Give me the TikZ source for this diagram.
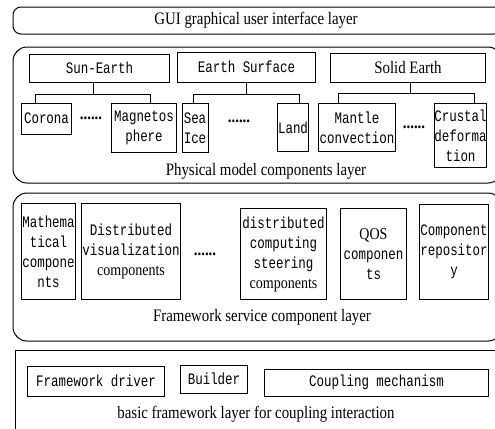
\documentclass[tikz,border=0pt]{standalone}
\usepackage{fontspec}
\setmainfont{Liberation Serif}
\newfontfamily\boxfont{Liberation Mono}[FakeStretch=0.78]
\newfontfamily\labfont{Liberation Serif}[FakeStretch=0.85]
\newcommand{\boxtext}{\boxfont\fontsize{16bp}{20bp}\selectfont}
\newcommand{\labtext}{\labfont\fontsize{17.5bp}{20bp}\selectfont}
\newcommand{\serbox}{\labfont\fontsize{16.5bp}{20bp}\selectfont}
\tikzset{
	comp/.style={draw,line width=0.9bp,inner sep=0pt,outer sep=0pt,align=center,font=\boxtext},
	layer/.style={draw,line width=1bp},
	dots/.style={font=\labtext\bfseries,inner sep=0pt}
}
\begin{document}
\begin{tikzpicture}[x=1bp,y=-1bp]
	\useasboundingbox (0,0) rectangle (495,428);
	% layer frames
	\draw[layer,rounded corners=8bp] (13,7) rectangle (502,34);
	\draw[layer,rounded corners=14bp] (13,47) rectangle (502,183);
	\draw[layer,rounded corners=14bp] (13,193) rectangle (502,341);
	\draw[layer] (15,350) rectangle (502,440);
	\node[font=\labtext] (gui) at (256,20) {GUI graphical user interface layer};
	\node[font=\labtext] (phys) at (266,171) {Physical model components layer};
	\node[font=\labtext] (serv) at (262,317) {Framework service component layer};
	\node[font=\labtext] (base) at (256,414) {basic framework layer for coupling interaction};

	% physical model components
	\node[comp,minimum width=141,minimum height=28] (sunearth) at (99.5,68) {Sun-Earth};
	\node[comp,minimum width=139,minimum height=30] (surface) at (246.5,67) {Earth Surface};
	\node[comp,minimum width=156,minimum height=29,font=\labtext] (solid) at (408,67.5) {Solid Earth};
	\node[comp,minimum width=51,minimum height=31] (corona) at (46.5,118.5) {Corona};
	\node[comp,minimum width=66,minimum height=50] (magneto) at (144,128) {Magnetos\\phere};
	\node[comp,minimum width=26,minimum height=50] (seaice) at (195,128) {Sea\\Ice};
	\node[comp,minimum width=32,minimum height=49] (land) at (293,127.5) {Land};
	\node[comp,minimum width=78,minimum height=49] (mantle) at (357,127.5) {Mantle\\convection};
	\node[comp,minimum width=53,minimum height=65] (crustal) at (460.5,135.5) {Crustal\\deforma\\tion};
	\node[dots] (d1) at (91,118) {......};
	\node[dots] (d2) at (239,121) {......};
	\node[dots] (d3) at (414,127) {......};

	\draw[line width=0.9bp] ([xshift=-6.5bp]sunearth.south) -- ++(0,12) coordinate (sj);
	\draw[line width=0.9bp] ([xshift=-11.5bp]corona.north) |- (sj) -| ([xshift=6bp]magneto.north);
	\draw[line width=0.9bp] (surface.south) -- ++(0,12) coordinate (ej);
	\draw[line width=0.9bp] ([xshift=-2bp]seaice.north) |- (ej) -| ([xshift=6bp]land.north);
	\draw[line width=0.9bp] ([xshift=2bp]solid.south) -- ++(0,11) coordinate (oj);
	\draw[line width=0.9bp] ([xshift=-19bp]mantle.north) |- (oj) -| ([xshift=13.5bp]crustal.north);

	% framework service components
	\node[comp,minimum width=55,minimum height=97] (math) at (48.5,251.5) {Mathema\\tical\\compone\\nts};
	\node[comp,minimum width=100,minimum height=97] (vis) at (131,251.5) {Distributed\\visualization\\{\serbox components}};
	\node[comp,minimum width=87,minimum height=92] (steer) at (283.5,254) {distributed\\computing\\steering\\{\serbox components}};
	\node[comp,minimum width=67,minimum height=92] (qos) at (373.5,254) {{\serbox QOS}\\componen\\ts};
	\node[comp,minimum width=70,minimum height=96] (repo) at (454,252) {Component\\repositor\\y};
	\node[dots] (d4) at (205,254) {......};

	% basic framework
	\node[comp,minimum width=138,minimum height=30] (driver) at (96,381) {Framework driver};
	\node[comp,minimum width=68,minimum height=28] (builder) at (214,379) {Builder};
	\node[comp,minimum width=225,minimum height=27] (coupling) at (376.5,382.5) {Coupling mechanism};
\end{tikzpicture}
\end{document}
